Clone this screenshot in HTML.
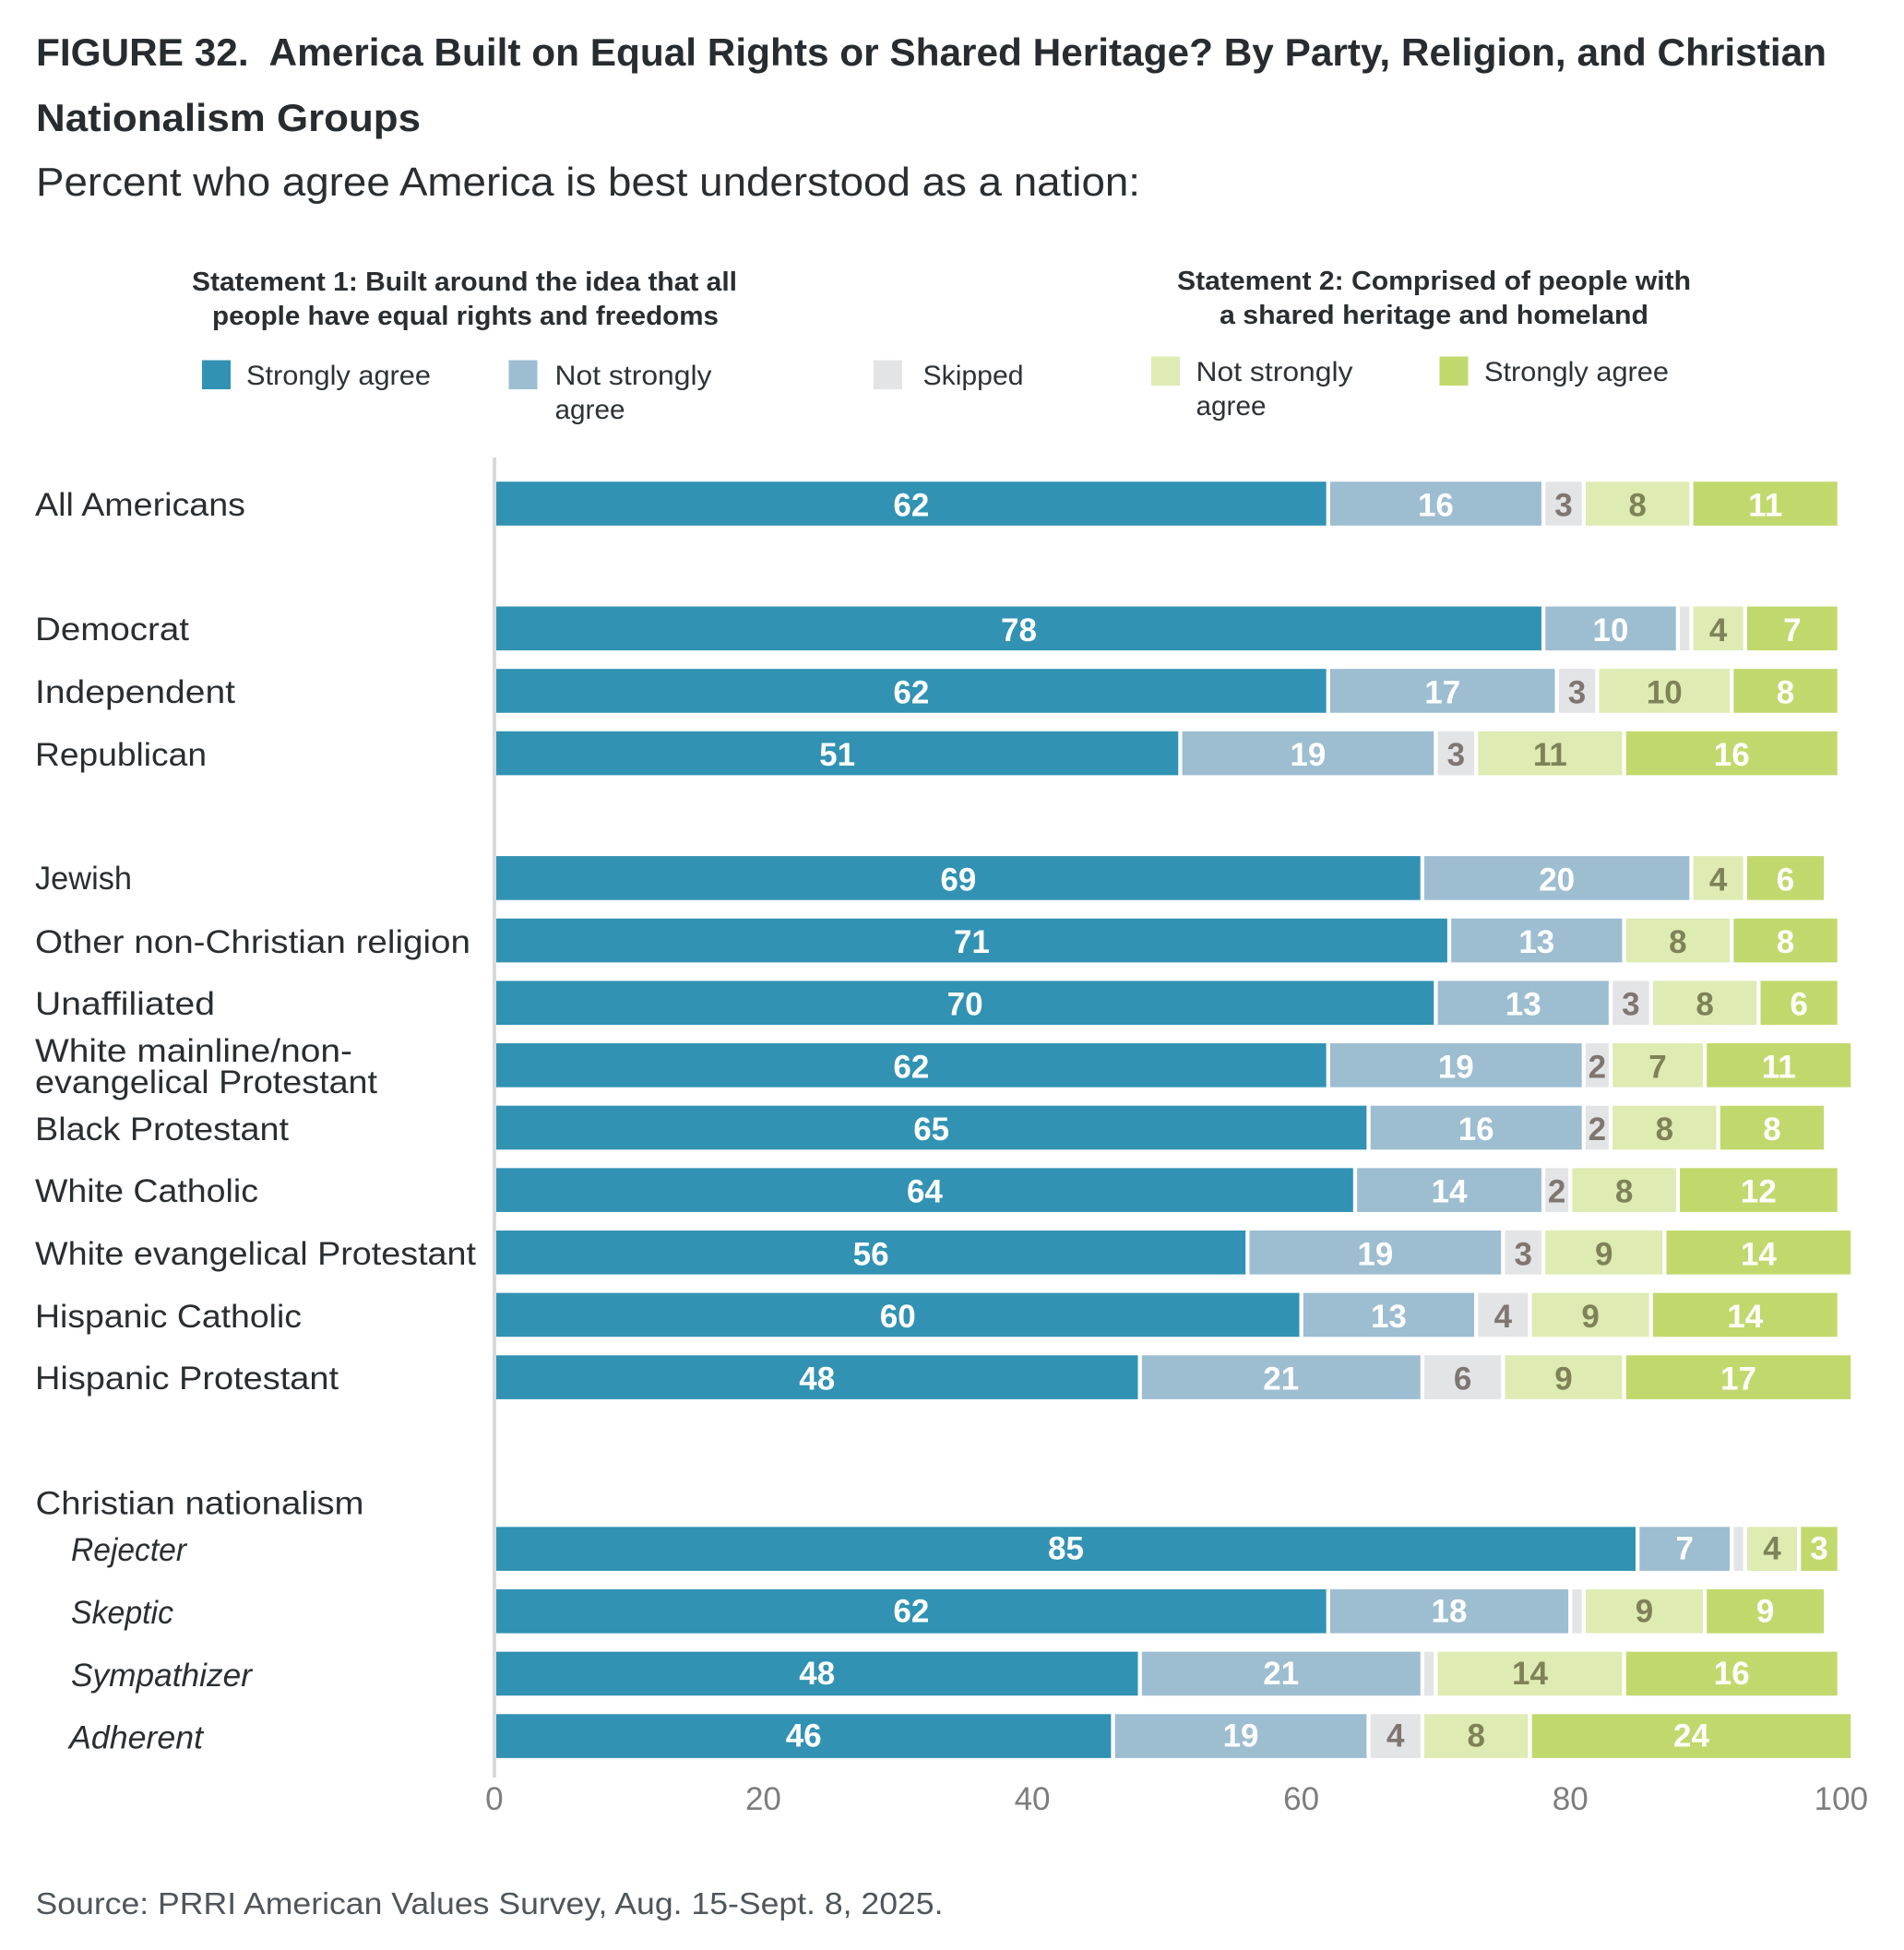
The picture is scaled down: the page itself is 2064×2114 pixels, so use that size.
<!DOCTYPE html>
<html lang="en">
<head>
<meta charset="utf-8">
<title>Figure 32</title>
<style>
html,body{margin:0;padding:0;background:#fff;}
svg{display:block;}
text{font-family:"Liberation Sans",Arial,sans-serif;white-space:pre;}
.title{font-size:42px;font-weight:700;fill:#272c30;}
.sub{font-size:44px;fill:#2a2e31;}
.head{font-size:29px;font-weight:700;fill:#2a2e31;}
.leg{font-size:30px;fill:#2d3236;}
.row{font-size:35px;fill:#2a2e31;}
.sg{font-size:35px;font-style:italic;fill:#2a2e31;}
.src{font-size:33px;fill:#4f565b;}
.tick{font-size:35px;fill:#7d7d7d;text-anchor:middle;}
.val{font-size:35px;font-weight:700;text-anchor:middle;}
</style>
</head>
<body>
<svg id="chart" xmlns="http://www.w3.org/2000/svg" width="2064" height="2114" viewBox="0 0 2064 2114">
<rect x="0" y="0" width="2064" height="2114" fill="#ffffff"/>

<g>
<text class="title" x="39" y="71" textLength="1941" lengthAdjust="spacingAndGlyphs">FIGURE 32.  America Built on Equal Rights or Shared Heritage? By Party, Religion, and Christian</text>
<text class="title" x="39" y="142" textLength="417" lengthAdjust="spacingAndGlyphs">Nationalism Groups</text>
</g>
<text class="sub" x="39" y="212" textLength="1197" lengthAdjust="spacingAndGlyphs">Percent who agree America is best understood as a nation:</text>

<g>
<text class="head" x="208" y="315" textLength="591" lengthAdjust="spacingAndGlyphs">Statement 1: Built around the idea that all</text>
<text class="head" x="230" y="352" textLength="549" lengthAdjust="spacingAndGlyphs">people have equal rights and freedoms</text>
<text class="head" x="1276" y="314" textLength="557" lengthAdjust="spacingAndGlyphs">Statement 2: Comprised of people with</text>
<text class="head" x="1322" y="351" textLength="465" lengthAdjust="spacingAndGlyphs">a shared heritage and homeland</text>

<g>
<rect x="219" y="390.5" width="31" height="31.5" fill="#3192b3"/>
<text class="leg" x="267" y="417" textLength="200" lengthAdjust="spacingAndGlyphs">Strongly agree</text>
</g>
<g>
<rect x="551.5" y="390.5" width="31" height="31.5" fill="#9dbdd1"/>
<text class="leg" x="601.5" y="417" textLength="170" lengthAdjust="spacingAndGlyphs">Not strongly</text>
<text class="leg" x="601.5" y="454" textLength="76" lengthAdjust="spacingAndGlyphs">agree</text>
</g>
<g>
<rect x="947" y="390.5" width="31" height="31.5" fill="#e3e4e6"/>
<text class="leg" x="1000.5" y="417" textLength="109" lengthAdjust="spacingAndGlyphs">Skipped</text>
</g>
<g>
<rect x="1248" y="386.5" width="31" height="31.5" fill="#deebb3"/>
<text class="leg" x="1296.5" y="413" textLength="170" lengthAdjust="spacingAndGlyphs">Not strongly</text>
<text class="leg" x="1296.5" y="450" textLength="76" lengthAdjust="spacingAndGlyphs">agree</text>
</g>
<g>
<rect x="1560.5" y="386.5" width="31" height="31.5" fill="#c1d96c"/>
<text class="leg" x="1609" y="413" textLength="200" lengthAdjust="spacingAndGlyphs">Strongly agree</text>
</g>
</g>

<g>
<text class="row" x="38" y="559" textLength="228" lengthAdjust="spacingAndGlyphs">All Americans</text>
<text class="row" x="38" y="694" textLength="167" lengthAdjust="spacingAndGlyphs">Democrat</text>
<text class="row" x="38" y="762" textLength="217" lengthAdjust="spacingAndGlyphs">Independent</text>
<text class="row" x="38" y="830" textLength="186" lengthAdjust="spacingAndGlyphs">Republican</text>
<text class="row" x="38" y="964" textLength="105" lengthAdjust="spacingAndGlyphs">Jewish</text>
<text class="row" x="38" y="1033" textLength="472" lengthAdjust="spacingAndGlyphs">Other non-Christian religion</text>
<text class="row" x="38" y="1100" textLength="195" lengthAdjust="spacingAndGlyphs">Unaffiliated</text>
<text class="row" x="38" y="1151" textLength="344" lengthAdjust="spacingAndGlyphs">White mainline/non-</text>
<text class="row" x="38" y="1185" textLength="371" lengthAdjust="spacingAndGlyphs">evangelical Protestant</text>
<text class="row" x="38" y="1236" textLength="275" lengthAdjust="spacingAndGlyphs">Black Protestant</text>
<text class="row" x="38" y="1303" textLength="242" lengthAdjust="spacingAndGlyphs">White Catholic</text>
<text class="row" x="38" y="1371" textLength="478" lengthAdjust="spacingAndGlyphs">White evangelical Protestant</text>
<text class="row" x="38" y="1439" textLength="289" lengthAdjust="spacingAndGlyphs">Hispanic Catholic</text>
<text class="row" x="38" y="1506" textLength="329" lengthAdjust="spacingAndGlyphs">Hispanic Protestant</text>
<text class="row" x="38.5" y="1641.5" textLength="356" lengthAdjust="spacingAndGlyphs">Christian nationalism</text>
<text class="sg" x="77" y="1692" textLength="125" lengthAdjust="spacingAndGlyphs">Rejecter</text>
<text class="sg" x="77" y="1760" textLength="111" lengthAdjust="spacingAndGlyphs">Skeptic</text>
<text class="sg" x="77" y="1828" textLength="196" lengthAdjust="spacingAndGlyphs">Sympathizer</text>
<text class="sg" x="75" y="1895.5" textLength="145" lengthAdjust="spacingAndGlyphs">Adherent</text>
</g>

<g id="bars"></g>
<rect x="534" y="496" width="4" height="1431" fill="#d9d9d9"/>
<g id="ticks"></g>

<text class="src" x="38.5" y="2075" textLength="984" lengthAdjust="spacingAndGlyphs">Source: PRRI American Values Survey, Aug. 15-Sept. 8, 2025.</text>
</svg>

<script>
const categories = ["All Americans","Democrat","Independent","Republican","Jewish","Other non-Christian religion","Unaffiliated","White mainline/non-evangelical Protestant","Black Protestant","White Catholic","White evangelical Protestant","Hispanic Catholic","Hispanic Protestant","Rejecter","Skeptic","Sympathizer","Adherent"];
const groupOfCategory = [0,1,1,1,2,2,2,2,2,2,2,2,2,3,3,3,3];
const stronglyAgree1 = [62,78,62,51,69,71,70,62,65,64,56,60,48,85,62,48,46];
const notStronglyAgree1 = [16,10,17,19,20,13,13,19,16,14,19,13,21,7,18,21,19];
const skipped = [3,1,3,3,0,0,3,2,2,2,3,4,6,1,1,1,4];
const notStronglyAgree2 = [8,4,10,11,4,8,8,7,8,8,9,9,9,4,9,14,8];
const stronglyAgree2 = [11,7,8,16,6,8,6,11,8,12,14,14,17,3,9,16,24];
const xTicks = [0,20,40,60,80,100];

const SVGNS = "http://www.w3.org/2000/svg";
const PLOT = {x0:535.85, unit:14.58, top:546, pitch:67.65, barH:47.6, inset:2.15, minLabel:2};
const GROUP_GAPS = [0,1,1,1.75];
const LABEL_BASELINE_OFFSET = [13.5,13.5,13.5,11.6];

function xScale(v){ return PLOT.x0 + v*PLOT.unit; }
function yScale(i){
  let y = PLOT.top;
  for(let k=1;k<=i;k++){
    y += PLOT.pitch;
    if(groupOfCategory[k]!==groupOfCategory[k-1]) y += GROUP_GAPS[groupOfCategory[k]]*PLOT.pitch;
  }
  return y;
}

const seriesList = [
  {key:"strongly-agree-statement-1", values:stronglyAgree1, fill:"#3192b3", ink:"#ffffff"},
  {key:"not-strongly-agree-statement-1", values:notStronglyAgree1, fill:"#9dbdd1", ink:"#ffffff"},
  {key:"skipped", values:skipped, fill:"#e3e4e6", ink:"#7f7672"},
  {key:"not-strongly-agree-statement-2", values:notStronglyAgree2, fill:"#deebb3", ink:"#7f8257"},
  {key:"strongly-agree-statement-2", values:stronglyAgree2, fill:"#c1d96c", ink:"#ffffff"}
];

const barsG = document.getElementById("bars");
categories.forEach(function(cat,i){
  const cy = yScale(i);
  let cum = 0;
  seriesList.forEach(function(s){
    const v = s.values[i];
    if(v>0){
      const x1 = xScale(cum), x2 = xScale(cum+v);
      const r = document.createElementNS(SVGNS,"rect");
      r.setAttribute("x", x1+PLOT.inset);
      r.setAttribute("y", cy-PLOT.barH/2);
      r.setAttribute("width", Math.max(0,x2-x1-2*PLOT.inset));
      r.setAttribute("height", PLOT.barH);
      r.setAttribute("fill", s.fill);
      
      
      barsG.appendChild(r);
      if(v>=PLOT.minLabel){
        const t = document.createElementNS(SVGNS,"text");
        t.setAttribute("class","val");
        t.setAttribute("x",(x1+x2)/2);
        t.setAttribute("y",cy+LABEL_BASELINE_OFFSET[groupOfCategory[i]]);
        t.setAttribute("fill",s.ink);
        t.textContent = String(v);
        
        
        barsG.appendChild(t);
      }
    }
    cum += v;
  });
});

const ticksG = document.getElementById("ticks");
xTicks.forEach(function(tv){
  const t = document.createElementNS(SVGNS,"text");
  t.setAttribute("class","tick");
  t.setAttribute("x",xScale(tv)+(tv===100?2:0));
  t.setAttribute("y",1962);
  t.textContent = String(tv);
  
  
  ticksG.appendChild(t);
});
</script>
</body>
</html>
